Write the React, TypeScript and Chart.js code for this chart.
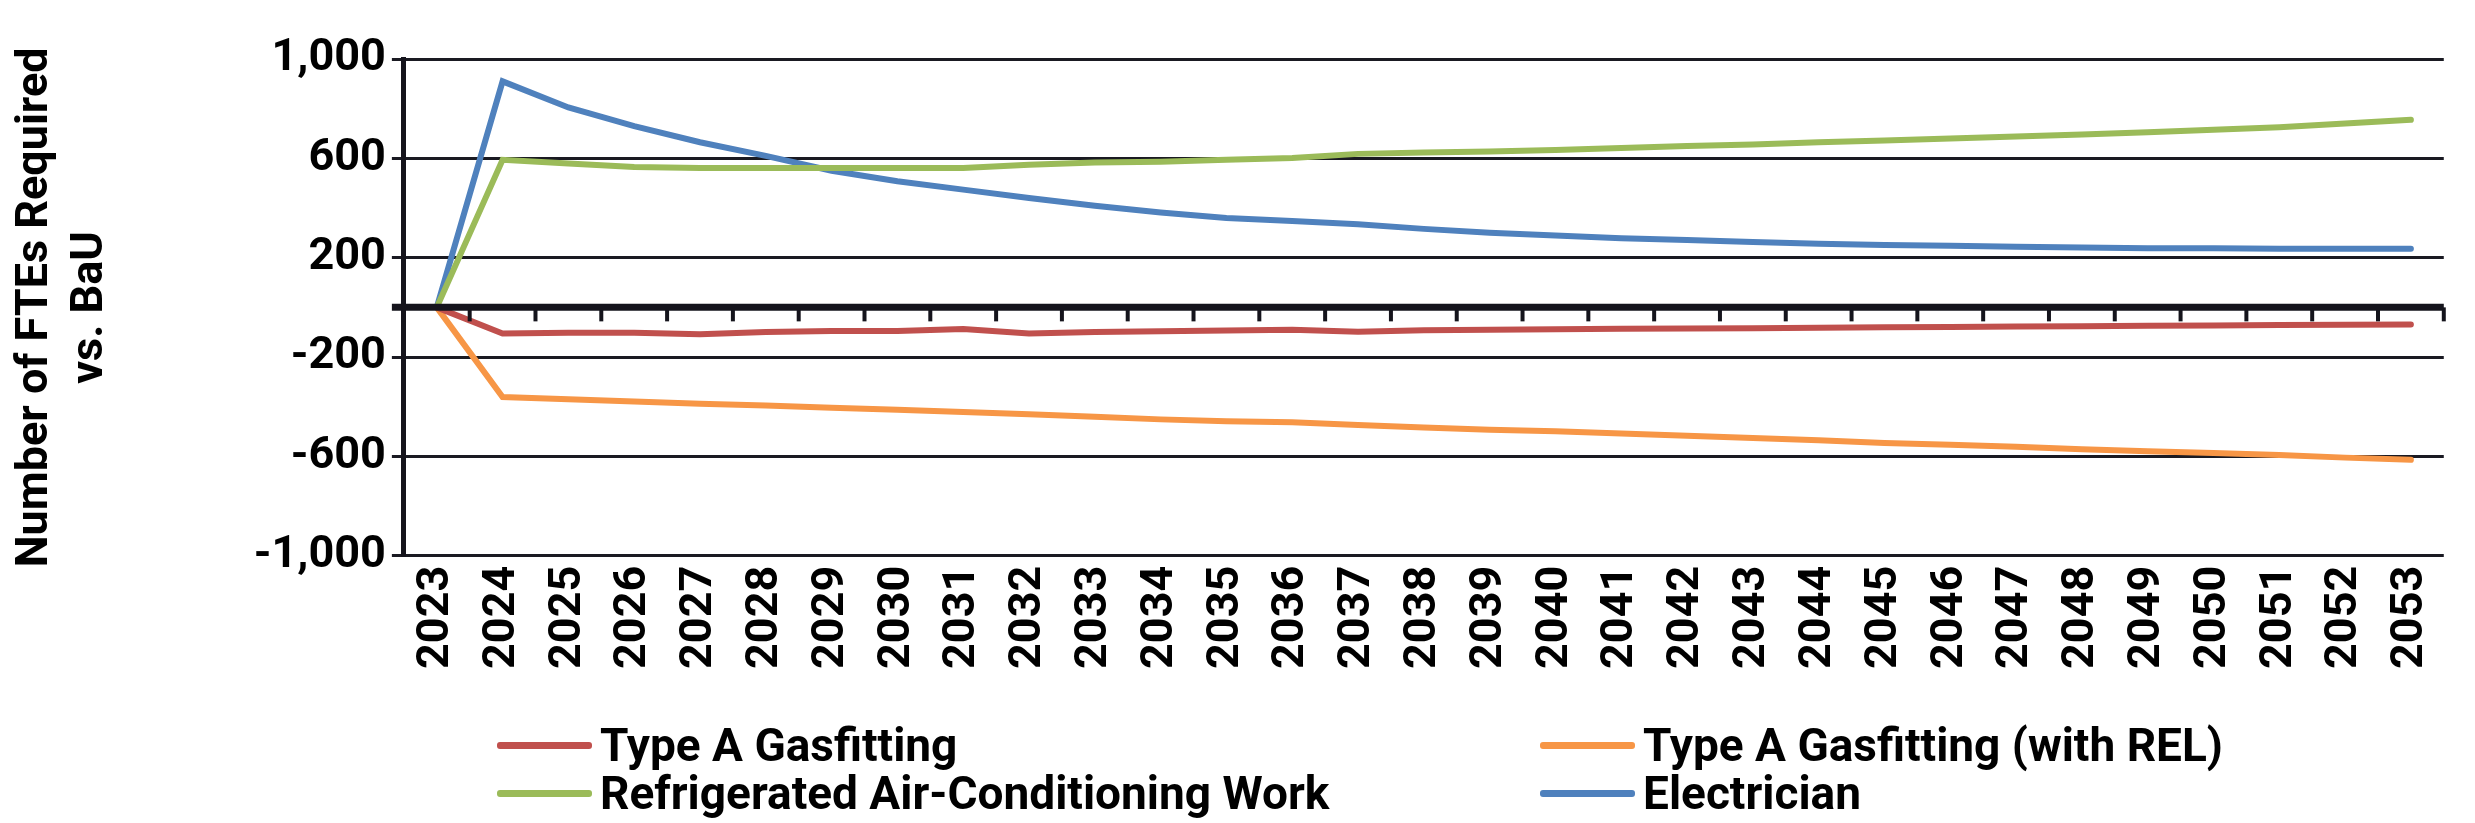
import React, { useEffect, useRef } from "react";
import { Chart, registerables } from "chart.js";
Chart.register(...registerables);

const years = Array.from({ length: 31 }, (_, i) => String(2023 + i));
const gasfitting = [0, -105, -102, -102, -108, -99, -95, -95, -87, -105, -99, -96, -93, -90, -98, -92, -90, -88, -86, -85, -84, -82, -80, -79, -77, -76, -74, -73, -71, -70, -69];
const gasfittingREL = [0, -361, -370, -379, -388, -395, -404, -412, -421, -430, -440, -451, -459, -463, -474, -484, -493, -499, -508, -517, -526, -535, -546, -553, -561, -571, -579, -586, -594, -605, -614];
const refrigeration = [0, 594, 579, 565, 561, 561, 561, 561, 561, 574, 583, 586, 594, 601, 618, 624, 628, 634, 642, 650, 656, 665, 672, 680, 688, 696, 705, 715, 725, 740, 755];
const electrician = [0, 910, 805, 730, 665, 610, 550, 508, 474, 440, 409, 382, 360, 348, 335, 316, 300, 289, 278, 271, 263, 256, 251, 248, 244, 241, 238, 238, 236, 236, 236];

const seriesNames = ["Type A Gasfitting", "Type A Gasfitting (with REL)", "Refrigerated Air-Conditioning Work", "Electrician"];
const colors = ["#C0504D", "#F79646", "#9BBB59", "#4F81BD"];
const FONT = "Roboto";

const zeroTicks = {
  id: "zeroTicks",
  afterDatasetsDraw(chart: any) {
    const x = chart.scales.x, y = chart.scales.y;
    const ctx = chart.ctx;
    const y0 = y.getPixelForValue(0);
    ctx.save();
    ctx.strokeStyle = "#15141c";
    ctx.lineWidth = 4;
    for (let i = 0; i <= years.length; i++) {
      const px = x.getPixelForValue(i - 0.5);
      ctx.beginPath();
      ctx.moveTo(px, y0);
      ctx.lineTo(px, y0 + 14);
      ctx.stroke();
    }
    ctx.lineWidth = 7;
    ctx.beginPath();
    ctx.moveTo(x.left - 12, y0);
    ctx.lineTo(x.right, y0);
    ctx.stroke();
    ctx.restore();
  },
};

export default function App() {
  const ref = useRef<HTMLCanvasElement>(null);
  useEffect(() => {
    document.body.style.margin = "0";
    const data = [gasfitting, gasfittingREL, refrigeration, electrician];
    const chart = new Chart(ref.current!, {
      type: "line",
      data: {
        labels: years,
        datasets: data.map((d, i) => ({
          label: seriesNames[i],
          data: d,
          borderColor: colors[i],
          backgroundColor: colors[i],
          borderWidth: 6,
          pointRadius: 0,
          tension: 0,
          borderCapStyle: "round",
        })),
      },
      options: {
        animation: false,
        responsive: false,
        layout: { padding: { top: 59, right: 7, bottom: 144, left: 0 } },
        plugins: { legend: { display: false }, tooltip: { enabled: false } },
        scales: {
          x: {
            offset: true,
            grid: { display: false, drawTicks: false },
            border: { display: false },
            ticks: {
              color: "#000",
              font: { family: FONT, weight: "bold", size: 45 },
              minRotation: 90,
              maxRotation: 90,
              autoSkip: false,
              padding: 10,
            },
          },
          y: {
            min: -1000,
            max: 1000,
            grid: { color: "#1a1a22", lineWidth: 3, tickLength: 12 },
            border: { display: true, color: "#15141c", width: 5 },
            ticks: {
              stepSize: 200,
              color: "#000",
              font: { family: FONT, weight: "bold", size: 45 },
              padding: 6,
              callback: (v: any) => (v === 0 ? "" : Number(v).toLocaleString("en-US")),
            },
            title: {
              display: true,
              text: ["Number of FTEs Required", "vs. BaU"],
              color: "#000",
              font: { family: FONT, weight: "bold", size: 45, lineHeight: 1.22 },
              padding: { top: 8, bottom: 130 },
            },
          },
        },
      },
      plugins: [zeroTicks],
    });
    return () => chart.destroy();
  }, []);

  const legendItem = (i: number, left: number, top: number) => (
    <div key={i} style={{ position: "absolute", left, top, display: "flex", alignItems: "center", fontFamily: FONT, fontWeight: "bold", fontSize: 46, lineHeight: "48px", color: "#000", whiteSpace: "nowrap" }}>
      <span style={{ display: "inline-block", width: 95, height: 7, background: colors[i], marginRight: 8, borderRadius: 3 }} />
      {seriesNames[i]}
    </div>
  );

  return (
    <div style={{ position: "relative", width: 2475, height: 823 }}>
      <canvas ref={ref} width={2475} height={823} />
      {legendItem(0, 497, 721)}
      {legendItem(1, 1540, 721)}
      {legendItem(2, 497, 769)}
      {legendItem(3, 1540, 769)}
    </div>
  );
}
